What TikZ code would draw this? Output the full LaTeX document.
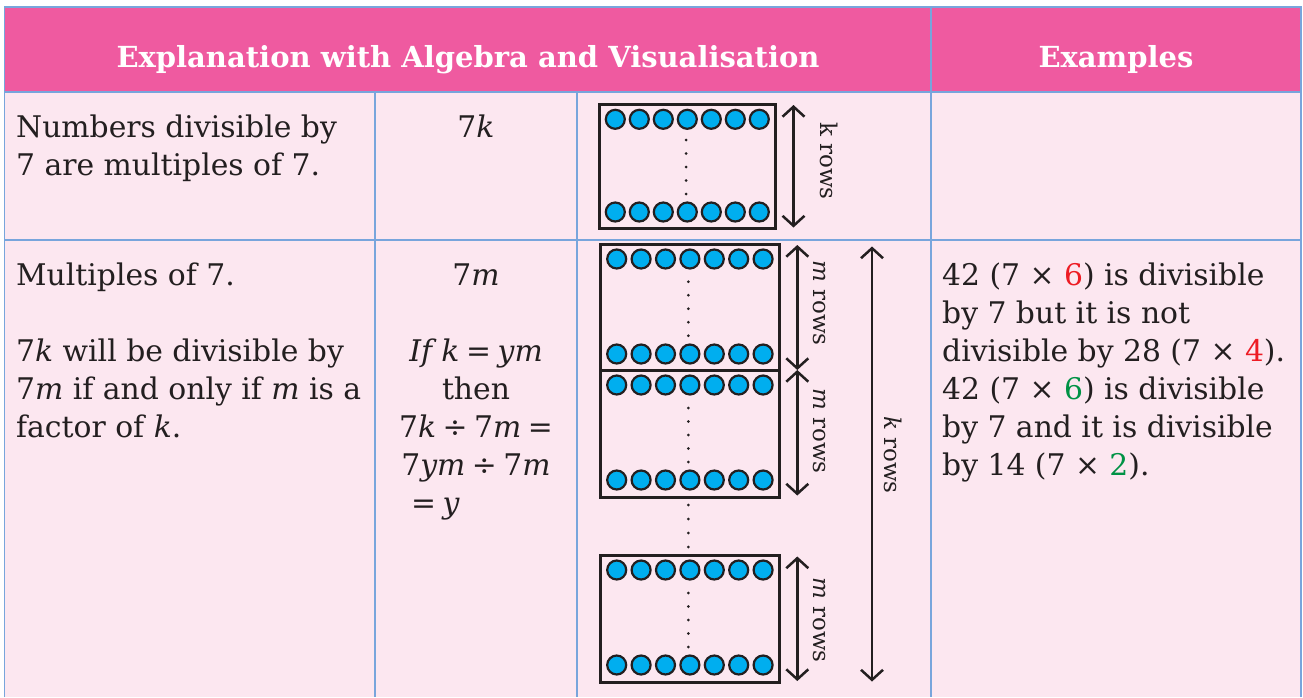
\documentclass[tikz,border=0pt]{standalone}
\usepackage{fontspec}
\setmainfont{DejaVu Serif}
\usetikzlibrary{arrows.meta}
\definecolor{hdrpink}{RGB}{239,90,160}
\definecolor{bodypink}{RGB}{252,231,240}
\definecolor{gridblue}{RGB}{120,165,220}
\definecolor{ink}{RGB}{35,31,32}
\definecolor{dotcyan}{RGB}{0,174,239}
\definecolor{numred}{RGB}{237,28,36}
\definecolor{numgreen}{RGB}{0,146,69}
\newcommand\opgap{\hspace{0.22em}}
\tikzset{
 txt/.style={anchor=base west, inner sep=0pt, text=ink, font=\fontsize{29.8}{38}\selectfont},
 ctxt/.style={anchor=base, inner sep=0pt, text=ink, font=\fontsize{29.8}{38}\selectfont},
 hdr/.style={anchor=base, inner sep=0pt, text=white, font=\fontsize{29}{38}\selectfont\bfseries},
 gridline/.style={draw=gridblue, line width=1.5pt},
 dotbox/.style={draw=ink, line width=3pt},
 bead/.style={draw=ink, fill=dotcyan, line width=2.2pt},
 vdot/.style={fill=ink, draw=none},
 rowarrow/.style={draw=ink, line width=2.5pt, {Straight Barb[length=10pt,width=22pt]}-{Straight Barb[length=10pt,width=22pt]}},
 rowlbl/.style={rotate=-90, inner sep=0pt, text=ink, font=\fontsize{23}{23}\selectfont},
}
\begin{document}
\begin{tikzpicture}[x=1pt,y=-1pt]
\useasboundingbox (0,0) rectangle (1303,697);
\fill[white] (0,0) rectangle (1303,697);
% table background
\fill[hdrpink] (4.5,7) rectangle (1301,92);
\fill[bodypink] (4.5,92) rectangle (1301,697);
% grid
\draw[gridline] (4.5,697) -- (4.5,7) -- (1301,7) -- (1301,697);
\draw[gridline] (4.5,92) -- (1301,92);
\draw[gridline] (4.5,240) -- (1301,240);
\draw[gridline] (931,7) -- (931,697);
\draw[gridline] (375,92) -- (375,697);
\draw[gridline] (577,92) -- (577,697);
% header
\node[hdr] (h1) at (468,67) {Explanation with Algebra and Visualisation};
\node[hdr] (h2) at (1116,67) {Examples};
% row 1 text
\node[txt] (r1a) at (16,137) {Numbers divisible by};
\node[txt] (r1b) at (16,175) {7 are multiples of 7.};
\node[ctxt] (r1k) at (476,137) {7\textit{k}};
% row 2 text col 1
\node[txt] (r2a) at (16,285) {Multiples of 7.};
\node[txt] (r2b) at (16,361.5) {7\textit{k} will be divisible by};
\node[txt] (r2c) at (16,399.5) {7\textit{m} if and only if \textit{m} is a};
\node[txt] (r2d) at (16,437.5) {factor of \textit{k}.};
% row 2 col 2
\node[ctxt] (c2a) at (476,285) {7\textit{m}};
\node[ctxt] (c2b) at (476,361.5) {\textit{If k}\opgap=\opgap\textit{ym}};
\node[ctxt] (c2c) at (476,399.5) {then};
\node[ctxt] (c2d) at (476,437.5) {7\textit{k}\opgap÷\opgap7\textit{m}\opgap=};
\node[ctxt] (c2e) at (476,475.5) {7\textit{ym}\opgap÷\opgap7\textit{m}};
\node[txt] (c2f) at (411,513) {=\opgap\textit{y}};
% row 2 col 4
\node[txt] (e1) at (942,285) {42 (7 × \textcolor{numred}{6}) is divisible};
\node[txt] (e2) at (942,323) {by 7 but it is not};
\node[txt] (e3) at (942,361.5) {divisible by 28 (7 × \textcolor{numred}{4}).};
\node[txt] (e4) at (942,399.5) {42 (7 × \textcolor{numgreen}{6}) is divisible};
\node[txt] (e5) at (942,437.5) {by 7 and it is divisible};
\node[txt] (e6) at (942,475.5) {by 14 (7 × \textcolor{numgreen}{2}).};
% row 1 visual
\draw[dotbox] (599.5,104) rectangle (775.5,228);
\foreach \i in {0,...,6} {
  \draw[bead] (615.3+24*\i,119.3) circle (9.5);
  \draw[bead] (615.3+24*\i,212) circle (9.5);
}
\foreach \yy in {140,153.5,167,180.5,194} \fill[vdot] (686,\yy) circle (1.5);
\coordinate (k1t) at (793.5,105);
\coordinate (k1b) at (793.5,227.5);
\draw[rowarrow] (k1t) -- (k1b);
\node[rowlbl] (k1l) at (829,161) {k rows};
% row 2 visual: boxes
\foreach \top/\bot/\ta/\tb/\da in {244.5/370/259/354/281.7, 370/497/385/480/408, 555.5/682/570/665/593} {
  \draw[dotbox] (600.7,\top) rectangle (779.3,\bot);
  \foreach \i in {0,...,6} {
    \draw[bead] (616.7+24.4*\i,\ta) circle (9.5);
    \draw[bead] (616.7+24.4*\i,\tb) circle (9.5);
  }
  \foreach \j in {0,...,4} \fill[vdot] (688.3,\da+13.5*\j) circle (1.5);
}
\foreach \j in {0,...,3} \fill[vdot] (688.3,505+14*\j) circle (1.5);
% m rows arrows
\coordinate (m1t) at (797.3,245);
\coordinate (m1b) at (797.3,370);
\coordinate (m2t) at (797.3,370);
\coordinate (m2b) at (797.3,495.5);
\coordinate (m3t) at (797.3,556.5);
\coordinate (m3b) at (797.3,681);
\draw[rowarrow] (m1t) -- (m1b);
\draw[rowarrow] (m2t) -- (m2b);
\draw[rowarrow] (m3t) -- (m3b);
\node[rowlbl] (m1l) at (819,303) {\textit{m} rows};
\node[rowlbl] (m2l) at (819,431) {\textit{m} rows};
\node[rowlbl] (m3l) at (819,620) {\textit{m} rows};
% k rows arrow
\coordinate (kt) at (872,246.5);
\coordinate (kb) at (872,681.5);
\draw[rowarrow] (kt) -- (kb);
\node[rowlbl] (kl) at (893,455) {\textit{k} rows};
\end{tikzpicture}
\end{document}
